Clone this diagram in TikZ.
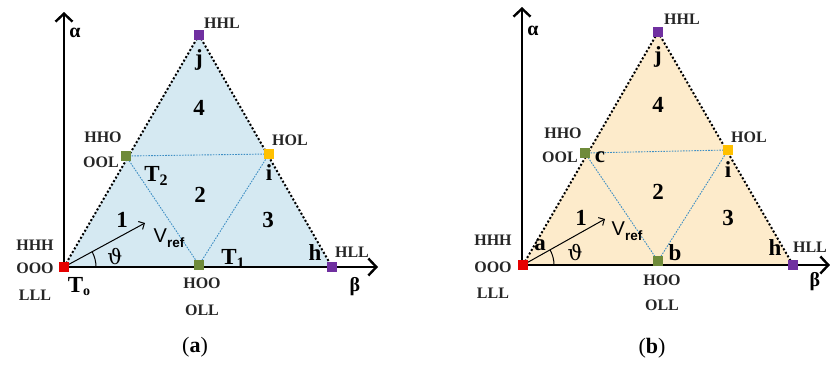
\documentclass[tikz,border=0pt]{standalone}
\usepackage{fontspec}
\setmainfont{Liberation Serif}
\newfontfamily\arialf{Liberation Sans}
\newfontfamily\dvserif{DejaVu Serif}
\usetikzlibrary{arrows.meta}
\definecolor{fillA}{HTML}{D5E9F2}
\definecolor{fillB}{HTML}{FDEBCB}
\definecolor{innerblue}{HTML}{3F8FC4}
\definecolor{sqred}{HTML}{E60000}
\definecolor{sqpurple}{HTML}{7030A0}
\definecolor{sqgreen}{HTML}{6F8B3A}
\definecolor{sqorange}{HTML}{FFC000}
\tikzset{
  axisline/.style={line width=2.4pt, -{Straight Barb[length=8pt,width=17pt,line width=2.4pt]}},
  outerline/.style={line width=2pt, dash pattern=on 2pt off 2.1pt},
  innerline/.style={draw=innerblue, line width=0.9pt, dash pattern=on 1.6pt off 1.2pt},
  sq/.style={fill=#1, minimum size=9.5pt, inner sep=0pt, draw=none},
  small/.style={font=\bfseries\fontsize{16}{16}\selectfont, inner sep=0pt, text=black!85},
  big/.style={font=\bfseries\fontsize{23}{23}\selectfont, inner sep=0pt},
  greek/.style={font=\bfseries\fontsize{20}{20}\selectfont, inner sep=0pt},
  vref/.style={font=\arialf\fontsize{20}{20}\selectfont, inner sep=0pt},
  theta/.style={font=\dvserif\fontsize{21}{21}\selectfont, inner sep=0pt},
  captext/.style={font=\fontsize{22}{22}\selectfont, inner sep=0pt},
  vecline/.style={line width=1pt, -{Straight Barb[length=4.5pt,width=9pt,line width=1pt]}},
}
\newcommand{\vreftext}{V\raisebox{-4.5pt}{\fontsize{13.5}{13.5}\selectfont\bfseries ref}}
\begin{document}
\begin{tikzpicture}[x=1pt,y=-1pt]
\useasboundingbox (0,0) rectangle (830,367);

% ---------------- panel (a) ----------------
\coordinate (aO) at (64,267);
\coordinate (aT) at (199,35);
\coordinate (aH) at (332,267);
\coordinate (aC) at (126,156);
\coordinate (aI) at (269,154);
\coordinate (aM) at (199,265);
\coordinate (aYtop) at (64,12);
\coordinate (aYbot) at (64,268);
\coordinate (aXl) at (63,267);
\coordinate (aXr) at (378,267);
\coordinate (aV) at (145,223);

\fill[fillA] (aO) -- (aT) -- (aH) -- cycle;
\draw[innerline] (aC) -- (aI);
\draw[innerline] (aC) -- (aM);
\draw[innerline] (aM) -- (aI);
\draw[outerline] (aO) -- (aT);
\draw[outerline] (aT) -- (aH);
\draw[axisline] (aYbot) -- (aYtop);
\draw[axisline] (aXl) -- (aXr);
\draw[vecline] (aO) -- (aV);
\draw[line width=1pt] (aO) ++(32,0) arc[start angle=0, end angle=28, radius=32pt];

\node[sq=sqred] (asO) at (aO) {};
\node[sq=sqpurple] (asT) at (aT) {};
\node[sq=sqpurple] (asH) at (aH) {};
\node[sq=sqgreen] (asC) at (aC) {};
\node[sq=sqorange] (asI) at (aI) {};
\node[sq=sqgreen] (asM) at (aM) {};

\node[greek] (aalpha) at (75,33) {α};
\node[greek] (abeta) at (355,287) {β};
\node[small] (aHHL) at (222,23) {HHL};
\node[big] (aj) at (199,60) {j};
\node[big] (a4) at (199,108) {4};
\node[small] (aHHO) at (103,137) {HHO};
\node[small] (aOOL) at (101,162) {OOL};
\node[small] (aHOL) at (290,140) {HOL};
\node[big] (aT2) at (156,176) {T\raisebox{-4pt}{\fontsize{16}{16}\selectfont 2}};
\node[big] (ai) at (269,173) {i};
\node[big] (a2) at (200,195) {2};
\node[big] (a1) at (122,220) {1};
\node[big] (a3) at (268,220) {3};
\node[vref] (avref) at (169,238) {\vreftext};
\node[theta] (ath) at (115,256) {ϑ};
\node[big] (aT1) at (233,259) {T\raisebox{-4pt}{\fontsize{16}{16}\selectfont 1}};
\node[big] (ah) at (315,253) {h};
\node[small] (aHLL) at (352,252) {HLL};
\node[small] (aHHH) at (35,245) {HHH};
\node[small] (aOOO) at (35,268) {OOO};
\node[small] (aLLL) at (35,295) {LLL};
\node[big] (aT0) at (79,287) {T\raisebox{-3pt}{\fontsize{14}{14}\selectfont o}};
\node[small] (aHOO) at (202,283) {HOO};
\node[small] (aOLL) at (202,310) {OLL};
\node[captext] (acap) at (195,347) {(\textbf{a})};

% ---------------- panel (b) ----------------
\coordinate (bO) at (523,265);
\coordinate (bT) at (658,32);
\coordinate (bH) at (793,265);
\coordinate (bC) at (585,153);
\coordinate (bI) at (728,150);
\coordinate (bM) at (658,261);
\coordinate (bYtop) at (522,7);
\coordinate (bYbot) at (522,266);
\coordinate (bXl) at (521,265);
\coordinate (bXr) at (830,265);
\coordinate (bV) at (605,219);

\fill[fillB] (bO) -- (bT) -- (bH) -- cycle;
\draw[innerline] (bC) -- (bI);
\draw[innerline] (bC) -- (bM);
\draw[innerline] (bM) -- (bI);
\draw[outerline] (bO) -- (bT);
\draw[outerline] (bT) -- (bH);
\draw[axisline] (bYbot) -- (bYtop);
\draw[axisline] (bXl) -- (bXr);
\draw[vecline] (bO) -- (bV);
\draw[line width=1pt] (bO) ++(31,0) arc[start angle=0, end angle=29, radius=31pt];

\node[sq=sqred] (bsO) at (bO) {};
\node[sq=sqpurple] (bsT) at (bT) {};
\node[sq=sqpurple] (bsH) at (bH) {};
\node[sq=sqgreen] (bsC) at (bC) {};
\node[sq=sqorange] (bsI) at (bI) {};
\node[sq=sqgreen] (bsM) at (bM) {};

\node[greek] (balpha) at (533,31) {α};
\node[greek] (bbeta) at (815,282) {β};
\node[small] (bHHL) at (682,19) {HHL};
\node[big] (bj) at (658,57) {j};
\node[big] (b4) at (658,105) {4};
\node[small] (bHHO) at (563,133) {HHO};
\node[small] (bOOL) at (560,157) {OOL};
\node[big] (bc) at (600,157) {c};
\node[small] (bHOL) at (749,137) {HOL};
\node[big] (bi) at (728,170) {i};
\node[big] (b2) at (658,192) {2};
\node[big] (b1) at (581,218) {1};
\node[big] (b3) at (728,218) {3};
\node[vref] (bvref) at (627,231) {\vreftext};
\node[big] (ba) at (540,245) {a};
\node[theta] (bth) at (575,252) {ϑ};
\node[big] (bb) at (675,253) {b};
\node[big] (bh) at (775,248) {h};
\node[small] (bHLL) at (810,247) {HLL};
\node[small] (bHHH) at (493,240) {HHH};
\node[small] (bOOO) at (493,267) {OOO};
\node[small] (bLLL) at (493,293) {LLL};
\node[small] (bHOO) at (662,280) {HOO};
\node[small] (bOLL) at (662,305) {OLL};
\node[captext] (bcap) at (652,348) {(\textbf{b})};
\end{tikzpicture}
\end{document}
